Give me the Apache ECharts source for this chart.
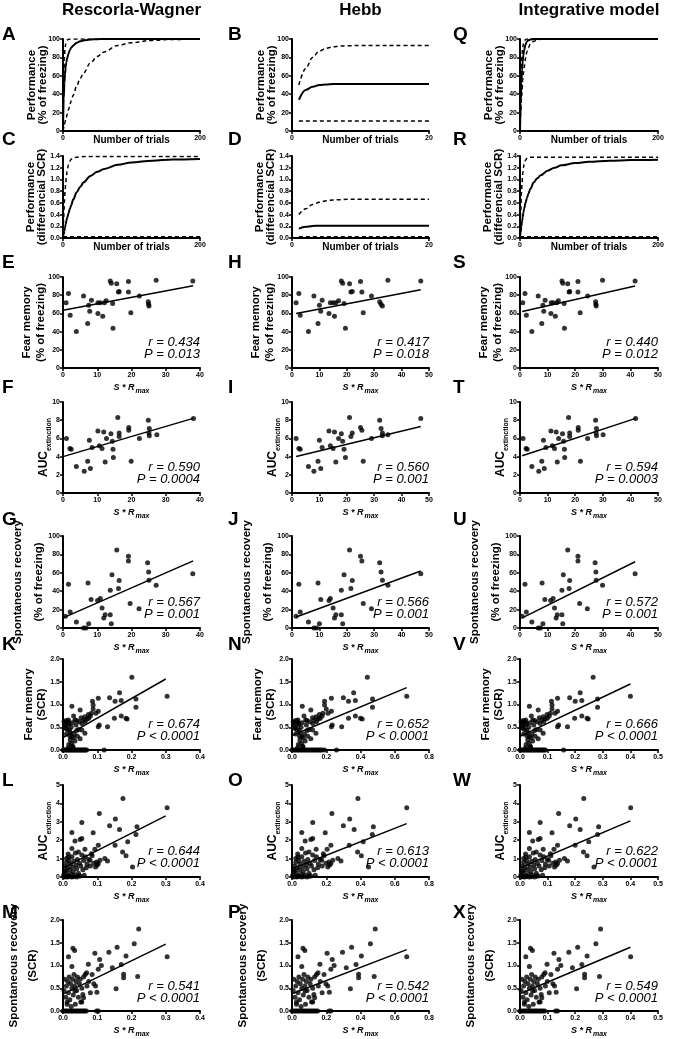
<!DOCTYPE html>
<html><head><meta charset="utf-8">
<script src="https://cdn.jsdelivr.net/npm/echarts@6/dist/echarts.min.js"></script>
<style>html,body{margin:0;padding:0;background:#fff}#c{width:675px;height:1039px}</style>
</head><body><div id="c"></div>
<script>
// ---------------- DATA ----------------
const columnTitles = ['Rescorla-Wagner', 'Hebb', 'Integrative model'];
const panelLetters = [['A','C','E','F','G','K','L','M'],['B','D','H','I','J','N','O','P'],['Q','R','S','T','U','V','W','X']];

// learning curves
const trialsRW = [0,1,2,3,4,5,6,8,10,12,15,20,25,30,40,50,60,80,100,130,160,200];
const A_fast = [0,55,78,90,95,97.5,98.8,99.6,100,100,100,100,100,100,100,100,100,100,100,100,100,100];
const A_mid  = [0,35,52,62,70,75,79,84,88,90.5,93,96,97.5,98.5,99.4,99.8,100,100,100,100,100,100];
const A_slow = [0,3,6.5,9.5,12.5,15,18,23,28,33,39,49,57,63,74,81,86,93,96,98.5,99.5,100];
const Q_fast = [0,45,70,84,91,95,97.5,99.3,100,100,100,100,100,100,100,100,100,100,100,100,100,100];
const Q_mid  = [0,30,52,66,76,83,88,94,97,98.5,99.5,100,100,100,100,100,100,100,100,100,100,100];
const Q_slow = [0,18,33,45,55,63,69,79,86,90.5,94.5,97.5,99,99.6,100,100,100,100,100,100,100,100];
const C_fast = [0,0.35,0.6,0.8,0.95,1.06,1.14,1.25,1.31,1.35,1.37,1.38,1.385,1.39,1.39,1.39,1.39,1.39,1.39,1.39,1.39,1.39];
const C_mid  = [0,0.06,0.12,0.18,0.24,0.3,0.34,0.42,0.5,0.56,0.66,0.78,0.87,0.95,1.06,1.13,1.18,1.25,1.29,1.32,1.34,1.35];
const C_low  = [0.02,0.02,0.02,0.02,0.02,0.02,0.02,0.02,0.02,0.02,0.02,0.02,0.02,0.02,0.02,0.02,0.02,0.02,0.02,0.02,0.02,0.02];
const R_fast = [0,0.45,0.75,0.95,1.1,1.2,1.26,1.33,1.36,1.375,1.38,1.38,1.38,1.38,1.38,1.38,1.38,1.38,1.38,1.38,1.38,1.38];
const R_mid  = [0,0.1,0.2,0.28,0.36,0.44,0.5,0.6,0.68,0.75,0.84,0.95,1.02,1.07,1.15,1.2,1.24,1.28,1.3,1.32,1.33,1.335];
const R_low  = [0.02,0.02,0.02,0.02,0.02,0.02,0.02,0.02,0.02,0.02,0.02,0.02,0.02,0.02,0.02,0.02,0.02,0.02,0.02,0.02,0.02,0.02];
const trialsHebb = [1,2,3,4,5,6,7,8,10,12,15,20];
const B_up  = [50,68,80,87,90,91.5,92.3,92.7,93,93,93,93];
const B_mid = [34,44.7,48,50,50.5,51,51,51,51,51,51,51];
const B_low = [11,11,11,11,11,11,11,11,11,11,11,11];
const D_up  = [0.40,0.50,0.57,0.61,0.635,0.65,0.655,0.66,0.66,0.66,0.66,0.66];
const D_mid = [0.16,0.19,0.205,0.21,0.21,0.21,0.21,0.21,0.21,0.21,0.21,0.21];
const D_low = [0.02,0.02,0.02,0.02,0.02,0.02,0.02,0.02,0.02,0.02,0.02,0.02];

// scatter: Rescorla-Wagner column
const E_pts = [[0.9,71.6],[1.6,81.8],[2.1,58],[3.9,40],[6.0,79],[7.2,49],[7.5,69],[7.8,62.5],[8.3,74.5],[10.2,60],[10.2,71.6],[10.9,71.6],[11.6,57],[12.1,71.6],[12.6,74],[13.8,95.6],[14.1,93],[14.5,71],[14.6,43.6],[15.7,92.7],[16.2,83.6],[16.4,84],[19.1,95],[19.1,83.6],[19.8,60.7],[22.3,79],[24.9,72.7],[25.0,70],[25.1,68],[27.2,96.4],[37.9,95.6]];
const E_fit = [[0,63.5],[38,90.5]];
const F_pts = [[1.0,6.0],[2.0,4.9],[2.4,4.8],[3.9,2.9],[6.2,2.4],[7.2,3.5],[7.7,5.8],[8.0,2.7],[8.5,5.0],[10.2,6.8],[10.6,5.2],[11.4,4.9],[11.9,6.7],[12.3,3.4],[12.7,6.0],[14.0,6.5],[14.4,5.7],[14.6,4.8],[14.7,3.9],[16.0,8.3],[16.4,6.2],[16.4,6.6],[19.2,7.2],[19.2,6.9],[19.9,3.5],[22.3,6.0],[24.9,8.0],[25.2,7.1],[25.1,6.6],[25.2,6.3],[27.4,6.4],[38.1,8.2]];
const F_fit = [[0,4.0],[38,8.2]];
const G_pts = [[0.7,12.7],[1.6,47.6],[2.1,17.5],[3.9,6.5],[6.0,0],[6.7,0],[7.3,49],[7.5,4.7],[8.2,31],[10.1,29.8],[10.9,32],[11.4,21.8],[11.9,11],[12.3,14.5],[13.8,14.5],[14.1,4.7],[14.3,58],[13.8,41],[15.7,84.7],[16.4,51.6],[16.2,43],[19.1,78],[19.1,72.7],[19.6,26.5],[22.2,21],[24.7,71],[25.0,61],[25.1,52],[27.2,46.5],[37.9,59]];
const G_fit = [[0,11],[38,73]];
const K_pts = [[0.201,1.60],[0.165,1.26],[0.136,1.15],[0.152,1.07],[0.170,1.09],[0.213,1.12],[0.213,0.94],[0.304,1.18],[0.086,1.07],[0.103,1.14],[0.088,0.99],[0.088,0.90],[0.103,0.85],[0.096,0.81],[0.083,0.81],[0.074,0.78],[0.064,0.73],[0.053,0.71],[0.050,0.88],[0.026,0.96],[0.031,0.75],[0.035,0.66],[0.016,0.66],[0.009,0.65],[0.005,0.55],[0.007,0.48],[0.016,0.55],[0.019,0.44],[0.026,0.29],[0.021,0.22],[0.029,0.07],[0.040,0.43],[0.055,0.44],[0.064,0.37],[0.103,0.51],[0.106,0.55],[0.130,0.51],[0.150,0.70],[0.170,0.75],[0.184,0.70],[0.187,0.68],[0.120,0.0],
  [0.003,0.62],[0.005,0.60],[0.008,0.50],[0.010,0.35],[0.012,0.45],[0.014,0.62],[0.018,0.58],[0.020,0.30],[0.022,0.38],[0.024,0.50],[0.027,0.60],[0.030,0.27],[0.033,0.35],[0.035,0.20],[0.038,0.55],[0.040,0.65],[0.042,0.30],[0.045,0.45],[0.048,0.62],[0.050,0.25],[0.055,0.58],[0.060,0.66],[0.065,0.62],[0.070,0.68],[0.075,0.70],[0.080,0.75],[0.017,0.12],[0.025,0.15],[0.028,0.08],[0.015,0.05],
  [0.0,0],[0.003,0],[0.006,0],[0.009,0],[0.012,0],[0.015,0],[0.018,0],[0.021,0],[0.024,0],[0.027,0],[0.030,0],[0.033,0],[0.036,0],[0.039,0],[0.042,0],[0.045,0],[0.048,0],[0.051,0],[0.054,0],[0.057,0],[0.060,0],[0.063,0],[0.066,0],[0.069,0]];
const K_fit = [[0,0.27],[0.30,1.56]];
const L_pts = [[0.175,4.27],[0.304,3.76],[0.106,3.45],[0.153,3.15],[0.136,2.78],[0.165,2.58],[0.055,2.96],[0.216,2.73],[0.213,2.31],[0.088,2.40],[0.026,2.42],[0.050,2.04],[0.055,2.09],[0.035,1.95],[0.189,1.91],[0.103,1.73],[0.152,1.73],[0.093,1.51],[0.064,1.51],[0.174,1.36],[0.184,1.15],[0.122,1.0],[0.130,0.87],[0.203,0.55],[0.016,1.09],[0.026,1.55],[0.045,1.36],[0.083,1.27],[0.079,0.91],[0.098,0.82],[0.103,0.73],[0.108,0.91],[0.007,0.36],
  [0.002,0.1],[0.005,0.3],[0.007,0.6],[0.010,0.8],[0.012,0.2],[0.014,0.5],[0.016,0.05],[0.018,0.9],[0.020,0.4],[0.022,0.7],[0.024,0.15],[0.026,1.1],[0.028,0.55],[0.030,0.3],[0.032,0.85],[0.034,0.1],[0.036,1.3],[0.038,0.65],[0.040,0.45],[0.042,0.95],[0.045,0.2],[0.048,0.75],[0.050,0.05],[0.052,0.6],[0.055,1.2],[0.058,0.4],[0.060,0.9],[0.062,0.1],[0.065,1.1],[0.068,0.5],[0.070,0.7],[0.075,0.95],[0.080,0.6],[0.085,1.15],[0.090,0.75],[0.095,0.55],[0.100,0.65],[0.003,0.0],[0.008,0.02],[0.013,0.0],[0.019,0.03],[0.025,0.0],[0.031,0.02],[0.040,0.0],[0.046,0.05],[0.010,1.0],[0.015,1.25]];
const L_fit = [[0,0.5],[0.30,3.32]];
const M_pts = [[0.221,1.80],[0.208,1.48],[0.158,1.40],[0.134,1.29],[0.093,1.27],[0.184,1.21],[0.304,1.19],[0.029,1.38],[0.034,1.33],[0.016,1.19],[0.026,0.98],[0.107,1.13],[0.112,1.0],[0.103,0.92],[0.144,0.95],[0.170,1.02],[0.177,0.81],[0.177,0.73],[0.218,0.76],[0.074,1.03],[0.069,0.84],[0.095,0.55],[0.099,0.41],[0.155,0.49],[0.058,0.36],[0.060,0.29],[0.055,0.20],[0.035,0.44],[0.012,0.15],
  [0.003,0.45],[0.005,0.70],[0.008,0.30],[0.010,0.55],[0.012,0.20],[0.014,0.65],[0.016,0.40],[0.018,0.75],[0.020,0.25],[0.022,0.60],[0.024,0.10],[0.026,0.50],[0.028,0.70],[0.030,0.35],[0.032,0.80],[0.034,0.55],[0.036,0.15],[0.038,0.65],[0.040,0.45],[0.042,0.75],[0.045,0.30],[0.048,0.60],[0.050,0.70],[0.052,0.20],[0.055,0.50],[0.060,0.75],[0.065,0.80],[0.070,0.55],[0.075,0.65],[0.080,0.40],[0.085,0.80],[0.090,0.60],
  [0.0,0],[0.004,0],[0.008,0],[0.012,0],[0.016,0],[0.020,0],[0.024,0],[0.028,0],[0.032,0],[0.036,0],[0.040,0],[0.044,0],[0.048,0],[0.052,0],[0.056,0],[0.060,0],[0.064,0],[0.068,0],[0.098,0],[0.103,0]];
const M_fit = [[0,0.37],[0.30,1.47]];

// scatter: Hebb column
const H_pts = [[1.5,71.6],[2.5,81.8],[3,58],[6,40],[8,79],[9.5,49],[10,69],[10.5,62.5],[11,74.5],[13.5,60],[14,71.6],[15,71.6],[15.5,57],[16,71.6],[17,74],[18,95.6],[18.5,93],[19,71],[19.5,43.6],[21,92.7],[21.5,83.6],[22,84],[25,95],[25.5,83.6],[26,60.7],[29,79],[32,72.7],[32.5,70],[33,68],[35,96.4],[47,95.6]];
const H_fit = [[1.5,60],[47,86]];
const I_pts = [[1.5,6.0],[2.5,4.9],[3,4.8],[6,2.9],[8,2.4],[9.5,3.5],[10,5.8],[10.5,2.7],[11,5.0],[13.5,6.8],[14,5.2],[15,4.9],[15.5,6.7],[16,3.4],[17,6.0],[18,6.5],[18.5,5.7],[19,4.8],[19.5,3.9],[21,8.3],[21.5,6.2],[22,6.6],[25,7.2],[25.5,6.9],[26,3.5],[29,6.0],[32,8.0],[32.5,7.1],[33,6.6],[33,6.3],[35,6.4],[47,8.2]];
const I_fit = [[1.5,4.0],[47,7.3]];
const J_pts = [[1.5,12.7],[2.5,47.6],[3,17.5],[6,6.5],[8,0],[9,0],[9.5,49],[10,4.7],[10.5,31],[13.5,29.8],[14,32],[15,21.8],[15.5,11],[16,14.5],[18,14.5],[18.5,4.7],[19,58],[18,41],[21,84.7],[22,51.6],[21.5,43],[25,78],[25.5,72.7],[26,26.5],[29,21],[32,71],[32.5,61],[33,52],[35,46.5],[47,59]];
const J_fit = [[1.5,12],[47,62]];
const N_pts = [[0.44,1.60],[0.36,1.26],[0.30,1.15],[0.33,1.07],[0.37,1.09],[0.47,1.12],[0.47,0.94],[0.67,1.18],[0.19,1.07],[0.23,1.14],[0.19,0.99],[0.20,0.90],[0.23,0.85],[0.21,0.81],[0.18,0.81],[0.16,0.78],[0.14,0.73],[0.12,0.71],[0.11,0.88],[0.06,0.96],[0.07,0.75],[0.08,0.66],[0.035,0.66],[0.02,0.65],[0.011,0.55],[0.015,0.48],[0.035,0.55],[0.042,0.44],[0.057,0.29],[0.046,0.22],[0.064,0.07],[0.088,0.43],[0.12,0.44],[0.14,0.37],[0.23,0.51],[0.235,0.55],[0.29,0.51],[0.33,0.70],[0.37,0.75],[0.40,0.70],[0.41,0.68],[0.26,0.0],
  [0.007,0.62],[0.011,0.60],[0.018,0.50],[0.022,0.35],[0.026,0.45],[0.031,0.62],[0.04,0.58],[0.044,0.30],[0.048,0.38],[0.053,0.50],[0.059,0.60],[0.066,0.27],[0.073,0.35],[0.077,0.20],[0.084,0.55],[0.088,0.65],[0.092,0.30],[0.099,0.45],[0.106,0.62],[0.11,0.25],[0.121,0.58],[0.132,0.66],[0.143,0.62],[0.154,0.68],[0.165,0.70],[0.176,0.75],[0.037,0.12],[0.055,0.15],[0.062,0.08],[0.033,0.05],
  [0,0],[0.008,0],[0.016,0],[0.024,0],[0.032,0],[0.04,0],[0.048,0],[0.056,0],[0.064,0],[0.072,0],[0.08,0],[0.088,0],[0.096,0],[0.104,0],[0.112,0],[0.12,0],[0.128,0],[0.136,0],[0.144,0],[0.152,0],[0.16,0],[0.168,0],[0.176,0],[0.19,0]];
const N_fit = [[0,0.32],[0.67,1.37]];
const O_pts = [[0.385,4.27],[0.67,3.76],[0.233,3.45],[0.337,3.15],[0.3,2.78],[0.363,2.58],[0.121,2.96],[0.475,2.73],[0.469,2.31],[0.194,2.40],[0.057,2.42],[0.11,2.04],[0.121,2.09],[0.077,1.95],[0.416,1.91],[0.227,1.73],[0.334,1.73],[0.205,1.51],[0.141,1.51],[0.383,1.36],[0.405,1.15],[0.268,1.0],[0.286,0.87],[0.447,0.55],[0.035,1.09],[0.057,1.55],[0.099,1.36],[0.183,1.27],[0.174,0.91],[0.216,0.82],[0.227,0.73],[0.238,0.91],[0.015,0.36],
  [0.004,0.1],[0.011,0.3],[0.015,0.6],[0.022,0.8],[0.026,0.2],[0.031,0.5],[0.035,0.05],[0.04,0.9],[0.044,0.4],[0.048,0.7],[0.053,0.15],[0.057,1.1],[0.062,0.55],[0.066,0.3],[0.07,0.85],[0.075,0.1],[0.079,1.3],[0.084,0.65],[0.088,0.45],[0.092,0.95],[0.099,0.2],[0.106,0.75],[0.11,0.05],[0.114,0.6],[0.121,1.2],[0.128,0.4],[0.132,0.9],[0.136,0.1],[0.143,1.1],[0.15,0.5],[0.154,0.7],[0.165,0.95],[0.176,0.6],[0.187,1.15],[0.198,0.75],[0.209,0.55],[0.22,0.65],[0.007,0.0],[0.018,0.02],[0.029,0.0],[0.042,0.03],[0.055,0.0],[0.068,0.02],[0.088,0.0],[0.101,0.05],[0.022,1.0],[0.033,1.25]];
const O_fit = [[0,0.45],[0.67,2.9]];
const P_pts = [[0.486,1.80],[0.458,1.48],[0.348,1.40],[0.295,1.29],[0.205,1.27],[0.405,1.21],[0.67,1.19],[0.064,1.38],[0.075,1.33],[0.035,1.19],[0.057,0.98],[0.235,1.13],[0.246,1.0],[0.227,0.92],[0.317,0.95],[0.374,1.02],[0.389,0.81],[0.389,0.73],[0.48,0.76],[0.163,1.03],[0.152,0.84],[0.209,0.55],[0.218,0.41],[0.341,0.49],[0.128,0.36],[0.132,0.29],[0.121,0.20],[0.077,0.44],[0.026,0.15],
  [0.007,0.45],[0.011,0.70],[0.018,0.30],[0.022,0.55],[0.026,0.20],[0.031,0.65],[0.035,0.40],[0.04,0.75],[0.044,0.25],[0.048,0.60],[0.053,0.10],[0.057,0.50],[0.062,0.70],[0.066,0.35],[0.07,0.80],[0.075,0.55],[0.079,0.15],[0.084,0.65],[0.088,0.45],[0.092,0.75],[0.099,0.30],[0.106,0.60],[0.11,0.70],[0.114,0.20],[0.121,0.50],[0.132,0.75],[0.143,0.80],[0.154,0.55],[0.165,0.65],[0.176,0.40],[0.187,0.80],[0.198,0.60],
  [0,0],[0.009,0],[0.018,0],[0.026,0],[0.035,0],[0.044,0],[0.053,0],[0.062,0],[0.07,0],[0.079,0],[0.088,0],[0.097,0],[0.106,0],[0.114,0],[0.123,0],[0.132,0],[0.141,0],[0.15,0],[0.216,0],[0.227,0]];
const P_fit = [[0,0.38],[0.67,1.35]];

// scatter: integrative column
const S_pts = [[1,71.6],[1.8,81.8],[2.3,58],[4.3,40],[6.6,79],[7.9,49],[8.3,69],[8.6,62.5],[9.1,74.5],[11.2,60],[11.3,71.6],[12,71.6],[12.8,57],[13.3,71.6],[13.9,74],[15.2,95.6],[15.5,93],[16,71],[16.1,43.6],[17.3,92.7],[17.8,83.6],[18,84],[21,95],[21,83.6],[21.8,60.7],[24.5,79],[27.4,72.7],[27.5,70],[27.6,68],[29.9,96.4],[41.7,95.6]];
const S_fit = [[0.8,62],[41.7,90]];
const T_pts = [[1.1,6.0],[2.2,4.9],[2.6,4.8],[4.3,2.9],[6.8,2.4],[7.9,3.5],[8.5,5.8],[8.8,2.7],[9.4,5.0],[11.2,6.8],[11.7,5.2],[12.5,4.9],[13.1,6.7],[13.5,3.4],[14,6.0],[15.4,6.5],[15.8,5.7],[16.1,4.8],[16.2,3.9],[17.6,8.3],[18,6.2],[18,6.6],[21.1,7.2],[21.1,6.9],[21.9,3.5],[24.5,6.0],[27.4,8.0],[27.7,7.1],[27.6,6.6],[27.7,6.3],[30.1,6.4],[41.9,8.2]];
const T_fit = [[0.8,4.1],[41.9,8.2]];
const U_pts = [[0.8,12.7],[1.8,47.6],[2.3,17.5],[4.3,6.5],[6.6,0],[7.4,0],[8,49],[8.3,4.7],[9,31],[11.1,29.8],[12,32],[12.5,21.8],[13.1,11],[13.5,14.5],[15.2,14.5],[15.5,4.7],[15.7,58],[15.2,41],[17.3,84.7],[18,51.6],[17.8,43],[21,78],[21,72.7],[21.6,26.5],[24.4,21],[27.2,71],[27.5,61],[27.6,52],[29.9,46.5],[41.7,59]];
const U_fit = [[0.8,11],[41.7,72]];
const V_pts = [[0.265,1.60],[0.218,1.26],[0.18,1.15],[0.20,1.07],[0.224,1.09],[0.281,1.12],[0.281,0.94],[0.40,1.18],[0.114,1.07],[0.136,1.14],[0.116,0.99],[0.116,0.90],[0.136,0.85],[0.127,0.81],[0.11,0.81],[0.098,0.78],[0.084,0.73],[0.07,0.71],[0.066,0.88],[0.034,0.96],[0.041,0.75],[0.046,0.66],[0.021,0.66],[0.012,0.65],[0.007,0.55],[0.009,0.48],[0.021,0.55],[0.025,0.44],[0.034,0.29],[0.028,0.22],[0.038,0.07],[0.053,0.43],[0.073,0.44],[0.084,0.37],[0.136,0.51],[0.14,0.55],[0.172,0.51],[0.198,0.70],[0.224,0.75],[0.243,0.70],[0.247,0.68],[0.158,0.0],
  [0.004,0.62],[0.007,0.60],[0.011,0.50],[0.013,0.35],[0.016,0.45],[0.018,0.62],[0.024,0.58],[0.026,0.30],[0.029,0.38],[0.032,0.50],[0.036,0.60],[0.04,0.27],[0.044,0.35],[0.046,0.20],[0.05,0.55],[0.053,0.65],[0.055,0.30],[0.059,0.45],[0.063,0.62],[0.066,0.25],[0.073,0.58],[0.079,0.66],[0.086,0.62],[0.092,0.68],[0.099,0.70],[0.106,0.75],[0.022,0.12],[0.033,0.15],[0.037,0.08],[0.02,0.05],
  [0,0],[0.004,0],[0.008,0],[0.012,0],[0.016,0],[0.02,0],[0.024,0],[0.028,0],[0.032,0],[0.036,0],[0.04,0],[0.044,0],[0.048,0],[0.052,0],[0.056,0],[0.06,0],[0.064,0],[0.068,0],[0.072,0],[0.076,0],[0.08,0],[0.084,0],[0.088,0],[0.092,0]];
const V_fit = [[0,0.3],[0.40,1.45]];
const W_pts = [[0.231,4.27],[0.401,3.76],[0.14,3.45],[0.202,3.15],[0.18,2.78],[0.218,2.58],[0.073,2.96],[0.285,2.73],[0.281,2.31],[0.116,2.40],[0.034,2.42],[0.066,2.04],[0.073,2.09],[0.046,1.95],[0.249,1.91],[0.136,1.73],[0.2,1.73],[0.123,1.51],[0.084,1.51],[0.23,1.36],[0.243,1.15],[0.161,1.0],[0.172,0.87],[0.268,0.55],[0.021,1.09],[0.034,1.55],[0.059,1.36],[0.11,1.27],[0.104,0.91],[0.129,0.82],[0.136,0.73],[0.143,0.91],[0.009,0.36],
  [0.003,0.1],[0.007,0.3],[0.009,0.6],[0.013,0.8],[0.016,0.2],[0.018,0.5],[0.021,0.05],[0.024,0.9],[0.026,0.4],[0.029,0.7],[0.032,0.15],[0.034,1.1],[0.037,0.55],[0.04,0.3],[0.042,0.85],[0.045,0.1],[0.048,1.3],[0.05,0.65],[0.053,0.45],[0.055,0.95],[0.059,0.2],[0.063,0.75],[0.066,0.05],[0.069,0.6],[0.073,1.2],[0.077,0.4],[0.079,0.9],[0.082,0.1],[0.086,1.1],[0.09,0.5],[0.092,0.7],[0.099,0.95],[0.106,0.6],[0.112,1.15],[0.119,0.75],[0.125,0.55],[0.132,0.65],[0.004,0.0],[0.011,0.02],[0.017,0.0],[0.025,0.03],[0.033,0.0],[0.041,0.02],[0.053,0.0],[0.061,0.05],[0.013,1.0],[0.02,1.25]];
const W_fit = [[0,0.5],[0.40,3.05]];
const X_pts = [[0.292,1.80],[0.275,1.48],[0.209,1.40],[0.177,1.29],[0.123,1.27],[0.243,1.21],[0.401,1.19],[0.038,1.38],[0.045,1.33],[0.021,1.19],[0.034,0.98],[0.141,1.13],[0.148,1.0],[0.136,0.92],[0.19,0.95],[0.224,1.02],[0.234,0.81],[0.234,0.73],[0.288,0.76],[0.098,1.03],[0.091,0.84],[0.125,0.55],[0.131,0.41],[0.205,0.49],[0.077,0.36],[0.079,0.29],[0.073,0.20],[0.046,0.44],[0.016,0.15],
  [0.004,0.45],[0.007,0.70],[0.011,0.30],[0.013,0.55],[0.016,0.20],[0.018,0.65],[0.021,0.40],[0.024,0.75],[0.026,0.25],[0.029,0.60],[0.032,0.10],[0.034,0.50],[0.037,0.70],[0.04,0.35],[0.042,0.80],[0.045,0.55],[0.048,0.15],[0.05,0.65],[0.053,0.45],[0.055,0.75],[0.059,0.30],[0.063,0.60],[0.066,0.70],[0.069,0.20],[0.073,0.50],[0.079,0.75],[0.086,0.80],[0.092,0.55],[0.099,0.65],[0.106,0.40],[0.112,0.80],[0.119,0.60],
  [0,0],[0.005,0],[0.011,0],[0.016,0],[0.021,0],[0.026,0],[0.032,0],[0.037,0],[0.042,0],[0.048,0],[0.053,0],[0.058,0],[0.063,0],[0.069,0],[0.074,0],[0.079,0],[0.084,0],[0.09,0],[0.129,0],[0.136,0]];
const X_fit = [[0,0.38],[0.40,1.4]];

const stats = {
  E:['0.434','= 0.013'], F:['0.590','= 0.0004'], G:['0.567','= 0.001'], K:['0.674','< 0.0001'], L:['0.644','< 0.0001'], M:['0.541','< 0.0001'],
  H:['0.417','= 0.018'], I:['0.560','= 0.001'], J:['0.566','= 0.001'], N:['0.652','< 0.0001'], O:['0.613','< 0.0001'], P:['0.542','< 0.0001'],
  S:['0.440','= 0.012'], T:['0.594','= 0.0003'], U:['0.572','= 0.001'], V:['0.666','< 0.0001'], W:['0.622','< 0.0001'], X:['0.549','< 0.0001']
};

// ---------------- LAYOUT ----------------
const FONT = '"Liberation Sans", Arial, Helvetica, sans-serif';
const colLeft = [63, 292, 520];
const colWidth = [137, 137, 138];
const rowTop = [39,156,277,402,536,659,785,920];
const rowBottom = [131,238,368,493,628,750,877,1012];
const letterY = [35,140,263,388,520,645,781,913];
const letterX = [2,228,453];
const yNameGap = [15,16,15,13,13.5,15,13,20.5];
const yNameLH  = [10.5,10.5,14,14,21,13,14,19];

const yNames = ['Performance\n(% of freezing)','Performance\n(differencial SCR)','Fear memory\n(% of freezing)','AUC','Spontaneous recovery\n(% of freezing)','Fear memory\n(SCR)','AUC','Spontaneous recovery\n(SCR)'];

const panels = [
  {r:0,c:0,curve:true,x:trialsRW,xMax:200,xInt:200,xDec:0,yMax:100,yInt:20,yDec:0,lines:[[A_fast,1],[A_mid,0],[A_slow,1]]},
  {r:0,c:1,curve:true,x:trialsHebb,xMax:20,xInt:20,xDec:0,yMax:100,yInt:20,yDec:0,lines:[[B_up,1],[B_mid,0],[B_low,1]]},
  {r:0,c:2,curve:true,x:trialsRW,xMax:200,xInt:200,xDec:0,yMax:100,yInt:20,yDec:0,lines:[[Q_fast,1],[Q_mid,0],[Q_slow,1]]},
  {r:1,c:0,curve:true,x:trialsRW,xMax:200,xInt:200,xDec:0,yMax:1.4,yInt:0.2,yDec:1,lines:[[C_fast,1],[C_mid,0],[C_low,1]]},
  {r:1,c:1,curve:true,x:trialsHebb,xMax:20,xInt:20,xDec:0,yMax:1.4,yInt:0.2,yDec:1,lines:[[D_up,1],[D_mid,0],[D_low,1]]},
  {r:1,c:2,curve:true,x:trialsRW,xMax:200,xInt:200,xDec:0,yMax:1.4,yInt:0.2,yDec:1,lines:[[R_fast,1],[R_mid,0],[R_low,1]]},
  {r:2,c:0,pts:E_pts,fit:E_fit,xMax:40,xInt:10,xDec:0,yMax:100,yInt:20,yDec:0},
  {r:3,c:0,pts:F_pts,fit:F_fit,xMax:40,xInt:10,xDec:0,yMax:10,yInt:2,yDec:0},
  {r:4,c:0,pts:G_pts,fit:G_fit,xMax:40,xInt:10,xDec:0,yMax:100,yInt:20,yDec:0},
  {r:5,c:0,pts:K_pts,fit:K_fit,xMax:0.4,xInt:0.1,xDec:1,yMax:2,yInt:0.5,yDec:1},
  {r:6,c:0,pts:L_pts,fit:L_fit,xMax:0.4,xInt:0.1,xDec:1,yMax:5,yInt:1,yDec:0},
  {r:7,c:0,pts:M_pts,fit:M_fit,xMax:0.4,xInt:0.1,xDec:1,yMax:2,yInt:0.5,yDec:1},
  {r:2,c:1,pts:H_pts,fit:H_fit,xMax:50,xInt:10,xDec:0,yMax:100,yInt:20,yDec:0},
  {r:3,c:1,pts:I_pts,fit:I_fit,xMax:50,xInt:10,xDec:0,yMax:10,yInt:2,yDec:0},
  {r:4,c:1,pts:J_pts,fit:J_fit,xMax:50,xInt:10,xDec:0,yMax:100,yInt:20,yDec:0},
  {r:5,c:1,pts:N_pts,fit:N_fit,xMax:0.8,xInt:0.2,xDec:1,yMax:2,yInt:0.5,yDec:1},
  {r:6,c:1,pts:O_pts,fit:O_fit,xMax:0.8,xInt:0.2,xDec:1,yMax:5,yInt:1,yDec:0},
  {r:7,c:1,pts:P_pts,fit:P_fit,xMax:0.8,xInt:0.2,xDec:1,yMax:2,yInt:0.5,yDec:1},
  {r:2,c:2,pts:S_pts,fit:S_fit,xMax:50,xInt:10,xDec:0,yMax:100,yInt:20,yDec:0},
  {r:3,c:2,pts:T_pts,fit:T_fit,xMax:50,xInt:10,xDec:0,yMax:10,yInt:2,yDec:0},
  {r:4,c:2,pts:U_pts,fit:U_fit,xMax:50,xInt:10,xDec:0,yMax:100,yInt:20,yDec:0},
  {r:5,c:2,pts:V_pts,fit:V_fit,xMax:0.5,xInt:0.1,xDec:1,yMax:2,yInt:0.5,yDec:1},
  {r:6,c:2,pts:W_pts,fit:W_fit,xMax:0.5,xInt:0.1,xDec:1,yMax:5,yInt:1,yDec:0},
  {r:7,c:2,pts:X_pts,fit:X_fit,xMax:0.5,xInt:0.1,xDec:1,yMax:2,yInt:0.5,yDec:1}
];

const grids=[], xAxes=[], yAxes=[], series=[], graphics=[];
const axisLineStyle = {show:true,onZero:false,lineStyle:{color:'#000',width:2}};
const tickStyle = {show:true,length:3,lineStyle:{color:'#000',width:1.5}};

panels.forEach((p,i)=>{
  const top = rowTop[p.r], bottom = rowBottom[p.r];
  const left = colLeft[p.c], width = colWidth[p.c];
  grids.push({left:left, top:top, width:width, height:bottom-top});
  const isAUC = (p.r===3 || p.r===6);
  xAxes.push({
    type:'value', gridIndex:i, min:0, max:p.xMax, interval:p.xInt,
    axisLine:axisLineStyle, axisTick:tickStyle, splitLine:{show:false},
    axisLabel:{fontSize:7,fontWeight:'bold',color:'#000',margin:4,fontFamily:FONT,formatter:v=>v.toFixed(p.xDec)},
    name: p.curve ? 'Number of trials' : '{a|S * R}{b|max}',
    nameLocation:'middle', nameGap: p.curve ? 4 : 15, nameMoveOverlap:false,
    nameTextStyle: p.curve ? {fontSize:10,fontWeight:'bold',color:'#000',fontFamily:FONT,verticalAlign:'top'} :
      {color:'#000',verticalAlign:'top',rich:{a:{fontSize:9,fontWeight:'bold',fontStyle:'italic',fontFamily:FONT,color:'#000',verticalAlign:'bottom'},
        b:{fontSize:7,fontWeight:'bold',fontStyle:'italic',fontFamily:FONT,color:'#000',verticalAlign:'bottom',padding:[0,0,-3,1]}}}
  });
  yAxes.push({
    type:'value', gridIndex:i, min:0, max:p.yMax, interval:p.yInt,
    axisLine:axisLineStyle, axisTick:tickStyle, splitLine:{show:false},
    axisLabel:{fontSize:7,fontWeight:'bold',color:'#000',margin:3,fontFamily:FONT,formatter:v=>v.toFixed(p.yDec)},
    name: isAUC ? '{a|AUC}{b|extinction}' : yNames[p.r],
    nameLocation:'middle', nameRotate:90, nameGap: yNameGap[p.r], nameMoveOverlap:false,
    nameTextStyle: isAUC ? {color:'#000',rich:{a:{fontSize:12,fontWeight:'bold',fontFamily:FONT,color:'#000',verticalAlign:'bottom'},
        b:{fontSize:7,fontWeight:'bold',fontFamily:FONT,color:'#000',verticalAlign:'bottom',padding:[0,0,-3,0]}}} :
      {fontSize:11.5,fontWeight:'bold',color:'#000',fontFamily:FONT,lineHeight: yNameLH[p.r]}
  });
  if (p.curve) {
    p.lines.forEach(([arr,dashed])=>{
      series.push({type:'line',xAxisIndex:i,yAxisIndex:i,data:p.x.map((t,k)=>[t,arr[k]]),
        showSymbol:false,symbol:'none',smooth:0.35,smoothMonotone:'x',clip:true,
        lineStyle:{color:'#000',width:dashed?1.5:2,type:dashed?[4,3]:'solid'},z:3});
    });
  } else {
    series.push({type:'scatter',xAxisIndex:i,yAxisIndex:i,data:p.pts,symbolSize:5,itemStyle:{color:'#000'},clip:false,z:4});
    series.push({type:'line',xAxisIndex:i,yAxisIndex:i,data:p.fit,showSymbol:false,symbol:'none',
      lineStyle:{color:'#000',width:1.5},z:3});
    const L = panelLetters[p.c][p.r];
    const st = stats[L];
    const rx = left + width;
    graphics.push({type:'text',x:rx,y:bottom-26,style:{text:'r = '+st[0],fontSize:13,fontStyle:'italic',fontFamily:FONT,fill:'#000',textAlign:'right',textVerticalAlign:'middle'}});
    graphics.push({type:'text',x:rx,y:bottom-14,style:{text:'P '+st[1],fontSize:13,fontStyle:'italic',fontFamily:FONT,fill:'#000',textAlign:'right',textVerticalAlign:'middle'}});
  }
  graphics.push({type:'text',x:letterX[p.c],y:letterY[p.r],style:{text:panelLetters[p.c][p.r],fontSize:19,fontWeight:'bold',fontFamily:FONT,fill:'#000',textAlign:'left',textVerticalAlign:'middle'}});
});

columnTitles.forEach((t,c)=>{
  graphics.push({type:'text',x:colLeft[c]+colWidth[c]/2,y:10,style:{text:t,fontSize:17,fontWeight:'bold',fontFamily:FONT,fill:'#000',textAlign:'center',textVerticalAlign:'middle'}});
});

const chart = echarts.init(document.getElementById('c'), null, {renderer:'canvas'});
chart.setOption({animation:false, backgroundColor:'#fff', grid:grids, xAxis:xAxes, yAxis:yAxes, series:series, graphic:graphics});
</script></body></html>
